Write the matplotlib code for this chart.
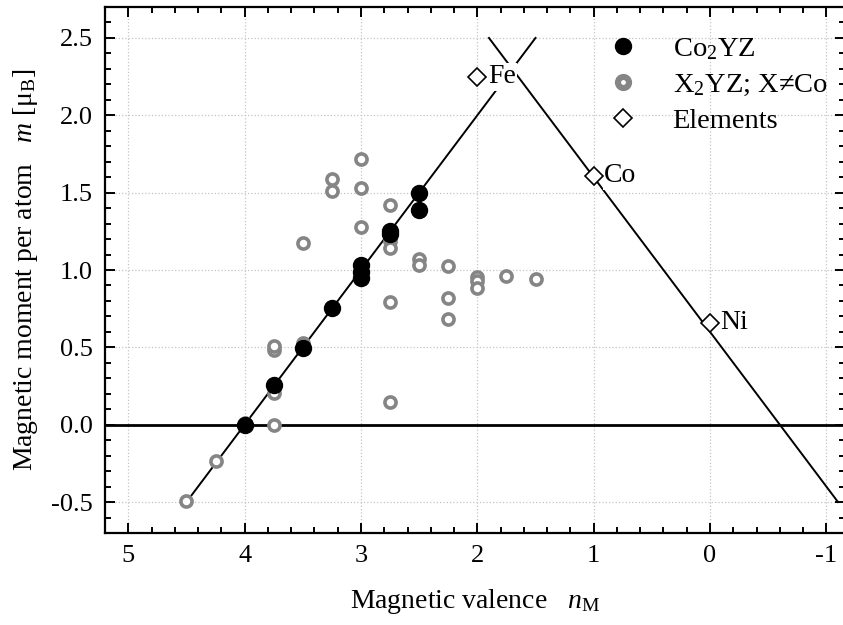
import numpy as np
import matplotlib.pyplot as plt
from matplotlib.lines import Line2D
from matplotlib.ticker import MultipleLocator

plt.rcParams['font.family'] = 'Liberation Serif'
plt.rcParams['mathtext.fontset'] = 'custom'
plt.rcParams['mathtext.rm'] = 'Liberation Serif'
plt.rcParams['mathtext.it'] = 'Liberation Serif:italic'

# Co2YZ Heusler compounds (filled)
co2_n = [4.0, 3.75, 3.5, 3.25, 3.0, 3.0, 3.0, 2.75, 2.75, 2.5, 2.5]
co2_m = [0.0, 0.255, 0.495, 0.755, 1.03, 0.99, 0.95, 1.23, 1.25, 1.39, 1.50]

# X2YZ compounds, X not Co (open)
x2_n = [4.5, 4.25, 4.0, 3.75, 3.75, 3.75, 3.75, 3.5, 3.5, 3.25, 3.25,
        3.0, 3.0, 3.0, 2.75, 2.75, 2.75, 2.75, 2.75, 2.5, 2.5,
        2.25, 2.25, 2.25, 2.0, 2.0, 2.0, 1.75, 1.5]
x2_m = [-0.495, -0.237, 0.01, 0.0, 0.205, 0.485, 0.51, 0.53, 1.176, 1.51, 1.587,
        1.72, 1.53, 1.275, 1.42, 1.19, 1.14, 0.794, 0.15, 1.07, 1.03,
        1.026, 0.817, 0.684, 0.953, 0.93, 0.882, 0.961, 0.94]

# pure elements
el_names = ['Fe', 'Co', 'Ni']
el_n = [2.0, 1.0, 0.0]
el_m = [2.25, 1.61, 0.66]

# Slater-Pauling branches
left_n = np.array([4.5, 1.5])
left_m = 4.0 - left_n
right_n = np.array([1.9, -1.1])
right_m = right_n + 0.6

fig = plt.figure(figsize=(8.43, 6.25), dpi=100)
ax = fig.add_axes([105/843, 92/625, 740/843, 526/625])

ax.axhline(0, color='black', lw=2.0, zorder=1)
ax.plot(left_n, left_m, color='black', lw=1.4, zorder=2)
ax.plot(right_n, right_m, color='black', lw=1.4, zorder=2)

gray = '#858585'
ax.plot(x2_n, x2_m, 'o', ls='none', ms=8.0, mfc='white', mec=gray, mew=2.6, zorder=3)
ax.plot(co2_n, co2_m, 'o', ls='none', ms=11.5, color='black', zorder=4)
ax.plot(el_n, el_m, 'D', ls='none', ms=9.5, mfc='white', mec='black', mew=1.2, zorder=6)
for name, n, m in zip(el_names, el_n, el_m):
    ax.text(n - 0.09, m, name, fontsize=20, ha='left', va='center', zorder=5,
            bbox=dict(facecolor='white', edgecolor='none', pad=1.0))

ax.set_xlim(5.2, -1.16)
ax.set_ylim(-0.7, 2.7)
ax.xaxis.set_minor_locator(MultipleLocator(0.2))
ax.yaxis.set_minor_locator(MultipleLocator(0.1))
ax.set_xticks([5, 4, 3, 2, 1, 0, -1])
ax.set_xticklabels(['5', '4', '3', '2', '1', '0', '-1'])
ax.set_yticks([-0.5, 0, 0.5, 1.0, 1.5, 2.0, 2.5])
ax.set_yticklabels(['-0.5', '0.0', '0.5', '1.0', '1.5', '2.0', '2.5'])
ax.tick_params(which='both', direction='in', top=True, right=True, width=1.4,
               labelsize=19)
ax.tick_params(which='major', length=7, pad=9)
ax.tick_params(which='minor', length=4)
for sp in ax.spines.values():
    sp.set_linewidth(1.6)
ax.grid(True, which='major', ls=':', color='#c4c4c4', lw=0.9)
ax.set_axisbelow(True)

ax.set_xlabel(r'Magnetic valence   $n_\mathrm{M}$', fontsize=20, labelpad=14)
ax.set_ylabel(r'Magnetic moment per atom   $m$ [μ$_\mathrm{B}$]', fontsize=20, labelpad=8)

handles = [Line2D([], [], marker='o', ls='none', ms=11.5, color='black'),
           Line2D([], [], marker='o', ls='none', ms=8.0, mfc='white', mec=gray, mew=4.4),
           Line2D([], [], marker='D', ls='none', ms=9.5, mfc='white', mec='black', mew=1.2)]
labels = [r'Co$_2$YZ', r'X$_2$YZ; X≠Co', 'Elements']
ax.legend(handles, labels, loc='upper left', bbox_to_anchor=(0.665, 0.966),
          frameon=False, fontsize=20.5, handlelength=1.0, handletextpad=1.25,
          labelspacing=0.35, borderaxespad=0)

fig.savefig('out.png', dpi=100)
